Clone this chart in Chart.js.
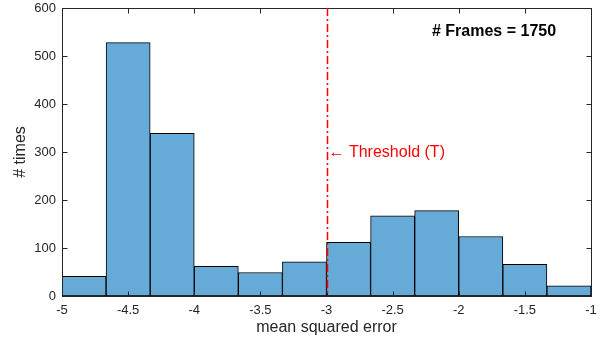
<!DOCTYPE html>
<html>
<head>
<meta charset="utf-8">
<script src="https://cdn.jsdelivr.net/npm/chart.js@4"></script>
<style>
  html, body { margin: 0; padding: 0; background: #fff; }
  #wrap { width: 606px; height: 347px; }
</style>
</head>
<body>
<div id="wrap"><canvas id="histChart" width="606" height="347"></canvas></div>
<script>
// Datos del histograma
const binEdges = [-5, -4.6667, -4.3333, -4, -3.6667, -3.3333, -3, -2.6667, -2.3333, -2, -1.6667, -1.3333, -1];
const counts = [41, 528, 339, 62, 49, 71, 112, 167, 178, 124, 66, 21];
const xTicks = [-5, -4.5, -4, -3.5, -3, -2.5, -2, -1.5, -1];
const yTicks = [0, 100, 200, 300, 400, 500, 600];
const threshold = -3;
const thresholdLabel = '\u2190 Threshold (T)';
const framesLabel = '# Frames = 1750';

const axisColor = '#262626';
const fuente = '"Liberation Sans", Arial, sans-serif';

// puntos centrados en cada bin
const puntos = counts.map((c, i) => ({ x: (binEdges[i] + binEdges[i + 1]) / 2, y: c }));

// plugin: caja, ticks hacia adentro, umbral y textos
const decoraciones = {
  id: 'decoraciones',
  afterDatasetsDraw(chart) {
    const { ctx, chartArea: a, scales } = chart;
    const xs = scales.x, ys = scales.y;
    ctx.save();

    // caja
    ctx.strokeStyle = axisColor;
    ctx.lineWidth = 1;
    const l = Math.round(a.left) + 0.5, r = Math.round(a.right) + 0.5;
    const t = Math.round(a.top) + 0.5, b = Math.round(a.bottom) + 0.5;
    ctx.strokeRect(l, t, r - l, b - t);

    // ticks hacia adentro
    ctx.beginPath();
    xTicks.forEach(v => {
      const px = Math.round(xs.getPixelForValue(v)) + 0.5;
      ctx.moveTo(px, b); ctx.lineTo(px, b - 5);
      ctx.moveTo(px, t); ctx.lineTo(px, t + 5);
    });
    yTicks.forEach(v => {
      const py = Math.round(ys.getPixelForValue(v)) + 0.5;
      ctx.moveTo(l, py); ctx.lineTo(l + 5, py);
      ctx.moveTo(r, py); ctx.lineTo(r - 5, py);
    });
    ctx.stroke();

    // linea de umbral
    const tx = Math.round(xs.getPixelForValue(threshold)) + 0.5;
    ctx.strokeStyle = '#ff0000';
    ctx.lineWidth = 1.5;
    ctx.setLineDash([8, 3, 2, 3]);
    ctx.beginPath();
    ctx.moveTo(tx, a.top);
    ctx.lineTo(tx, a.bottom);
    ctx.stroke();
    ctx.setLineDash([]);

    // textos
    ctx.fillStyle = '#ff0000';
    ctx.font = '16px ' + fuente;
    ctx.textAlign = 'left';
    ctx.textBaseline = 'middle';
    ctx.fillText(thresholdLabel, tx + 1, ys.getPixelForValue(299));

    ctx.fillStyle = '#000';
    ctx.font = 'bold 16px ' + fuente;
    ctx.fillText(framesLabel, 432, ys.getPixelForValue(550));
    ctx.restore();
  }
};

new Chart(document.getElementById('histChart').getContext('2d'), {
  type: 'bar',
  data: {
    datasets: [{
      label: 'mse',
      data: puntos,
      backgroundColor: 'rgb(102,170,215)',
      borderColor: '#000',
      borderWidth: 1,
      barPercentage: 1,
      categoryPercentage: 1,
      borderSkipped: false
    }]
  },
  options: {
    responsive: false,
    animation: false,
    layout: { padding: { top: 8, right: 15, left: 0, bottom: 0 } },
    plugins: { legend: { display: false }, tooltip: { enabled: false } },
    scales: {
      x: {
        type: 'linear',
        min: -5,
        max: -1,
        offset: false,
        grid: { display: false, drawTicks: false },
        border: { display: false },
        afterFit: s => { s.height = 51; s.paddingLeft = 0; s.paddingRight = 0; },
        afterBuildTicks: s => { s.ticks = xTicks.map(v => ({ value: v })); },
        ticks: {
          color: axisColor,
          font: { family: fuente, size: 13 },
          padding: 7,
          maxRotation: 0,
          callback: v => String(v)
        },
        title: {
          display: true,
          text: 'mean squared error',
          color: axisColor,
          font: { family: fuente, size: 16 },
          padding: { top: 2, bottom: 10 }
        }
      },
      y: {
        min: 0,
        max: 600,
        grid: { display: false, drawTicks: false },
        border: { display: false },
        afterFit: s => { s.width = 62; s.paddingTop = 0; s.paddingBottom = 0; },
        afterBuildTicks: s => { s.ticks = yTicks.map(v => ({ value: v })); },
        ticks: {
          color: axisColor,
          font: { family: fuente, size: 13 },
          padding: 6
        },
        title: {
          display: true,
          text: '# times',
          color: axisColor,
          font: { family: fuente, size: 16 },
          padding: { top: 11, bottom: 4 }
        }
      }
    }
  },
  plugins: [decoraciones]
});
</script>
</body>
</html>
